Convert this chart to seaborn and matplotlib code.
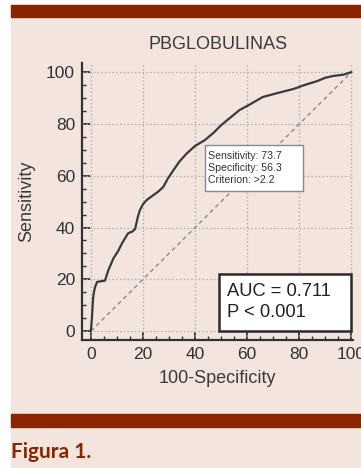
import matplotlib
matplotlib.use("Agg")
import matplotlib.pyplot as plt
import seaborn as sns
import pandas as pd
from matplotlib.patches import Rectangle
from matplotlib.ticker import MultipleLocator

# ---- data ----
fpr = [0, 0.4, 0.8, 1.0, 1.6, 2.4, 4.0, 5.4, 6.7, 8.6, 10.5, 12.0, 14.3, 16.0,
       17.0, 18.0, 18.8, 20.0, 21.4, 24.0, 26.0, 27.8, 29.6, 31.6, 34.0, 36.8,
       40.0, 43.7, 47.0, 50.0, 53.0, 57.0, 61.0, 66.0, 72.0, 77.8, 82.0, 86.8,
       90.0, 93.0, 97.0, 100.0]
tpr = [0, 5.0, 12.0, 14.0, 17.0, 19.0, 19.3, 19.5, 23.5, 28.0, 31.0, 34.0, 37.8,
       38.5, 39.5, 44.0, 46.7, 49.0, 50.6, 52.5, 54.0, 55.7, 59.0, 62.0, 65.5,
       68.6, 71.5, 73.7, 76.5, 79.5, 82.0, 85.3, 87.5, 90.4, 92.0, 93.5, 95.0,
       96.5, 97.8, 98.5, 99.0, 100.0]
diag = [0, 100]
ticks = [0, 20, 40, 60, 80, 100]
title = "PBGLOBULINAS"
xlabel = "100-Specificity"
ylabel = "Sensitivity"
crit_text = "Sensitivity: 73.7\nSpecificity: 56.3\nCriterion: >2.2"
auc_text = "AUC = 0.711\nP < 0.001"
caption = "Figura 1."

BG = "#F3E4DD"
RED = "#8B2500"
DARK = "#333333"

sns.set_theme(style="white")
plt.rcParams["font.family"] = ["Liberation Sans", "DejaVu Sans"]

W, H = 361, 468
fig = plt.figure(figsize=(W / 100, H / 100), dpi=100, facecolor="white")

# page background and bars
fig.patches.append(Rectangle((11 / W, 0), (W - 11) / W, 1 - 5 / H,
                             transform=fig.transFigure, color=BG, zorder=-10))
fig.patches.append(Rectangle((11 / W, 1 - 17 / H), (W - 11) / W, 12 / H,
                             transform=fig.transFigure, color=RED, zorder=-9))
fig.patches.append(Rectangle((11 / W, 1 - 427 / H), (W - 11) / W, 13 / H,
                             transform=fig.transFigure, color=RED, zorder=-9))

# axes: left spine at px 82, right edge ~353, bottom spine px 340, top px 63
ax = fig.add_axes([82 / W, 1 - 340 / H, (353 - 82) / W, (340 - 63) / H])
ax.set_facecolor("none")

df = pd.DataFrame({"fpr": fpr, "tpr": tpr})
dd = pd.DataFrame({"x": diag, "y": diag})
sns.lineplot(data=dd, x="x", y="y", ax=ax, color="#8a8a8a", lw=1.0,
             linestyle=(0, (3, 2.5)), zorder=2)
sns.lineplot(data=df, x="fpr", y="tpr", ax=ax, color="#3a3a3a", lw=1.6,
             zorder=3, estimator=None, sort=False)

ax.set_xlim(-3.4, 100.6)
ax.set_ylim(-3.4, 103.5)
ax.set_xticks(ticks)
ax.set_yticks(ticks)
ax.xaxis.set_minor_locator(MultipleLocator(5))
ax.yaxis.set_minor_locator(MultipleLocator(5))
ax.tick_params(axis="both", which="major", direction="in", length=6, width=1.3,
               color=DARK, labelsize=12.5, labelcolor=DARK, pad=5)
ax.tick_params(axis="both", which="minor", direction="in", length=3, width=1,
               color=DARK)
ax.tick_params(axis="both", which="both", bottom=True, left=True)
for t in ticks:
    ax.axhline(t, color="#b0b0b0", lw=0.9, ls=(0, (1.2, 1.8)), zorder=1)
    ax.axvline(t, color="#b0b0b0", lw=0.9, ls=(0, (1.2, 1.8)), zorder=1)

for s in ["top", "right"]:
    ax.spines[s].set_visible(False)
for s in ["left", "bottom"]:
    ax.spines[s].set_color(DARK)
    ax.spines[s].set_linewidth(1.6)

ax.set_xlabel(xlabel, fontsize=13, color="#3a3a3a", labelpad=6)
ax.set_ylabel(ylabel, fontsize=13, color="#3a3a3a", labelpad=8)
ax.text(48.8, 110.5, title, fontsize=13, color="#3a3a3a", ha="center",
        va="center", clip_on=False)

# criterion box
ax.add_patch(Rectangle((43.8, 54.0), 37.7, 17.8, facecolor="white",
                       edgecolor="#8a8a8a", lw=1.0, zorder=4))
ax.text(45.0, 63.0, crit_text, fontsize=7.6, color="#333333", ha="left",
        va="center", linespacing=1.3, zorder=5)

# AUC box
ax.add_patch(Rectangle((49.2, 0.0), 50.8, 22.0, facecolor="white",
                       edgecolor="#2a2a2a", lw=1.8, zorder=4))
ax.text(52.3, 11.3, auc_text, fontsize=13.2, color="#222222", ha="left",
        va="center", linespacing=1.25, zorder=5)

fig.text(11 / W, 1 - 458 / H, caption, fontsize=15, fontweight="bold",
         color=RED, family=["Lato", "DejaVu Sans"], ha="left", va="baseline")

fig.savefig("out.png", dpi=100, facecolor="white")
